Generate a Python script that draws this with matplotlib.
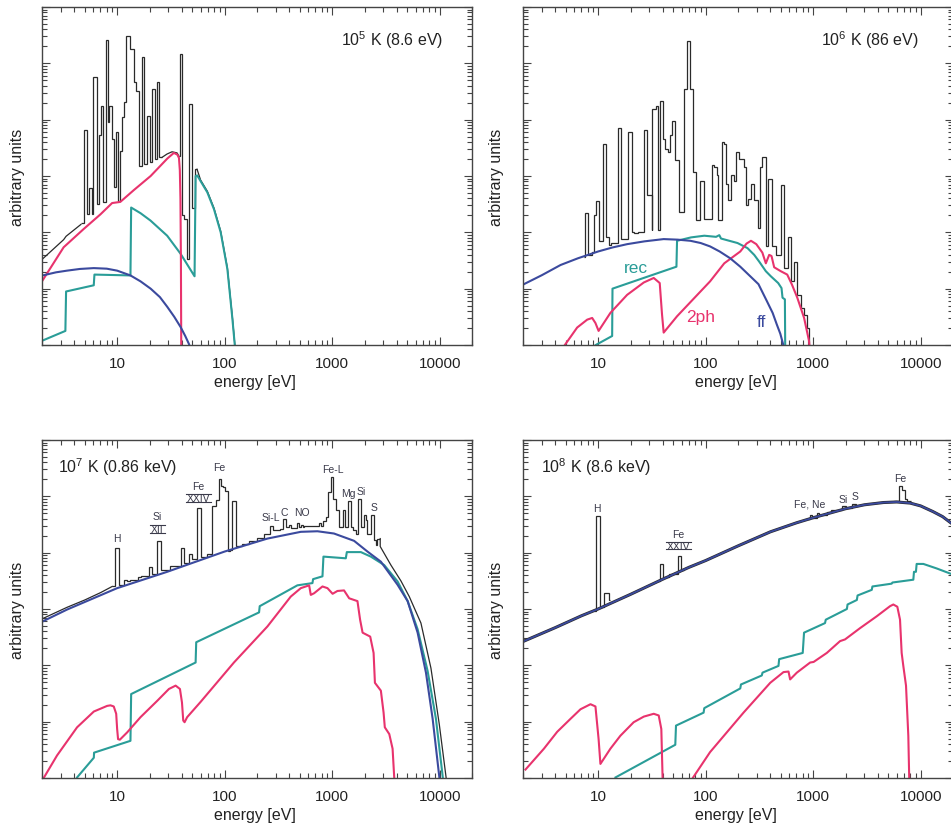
import numpy as np
import matplotlib
matplotlib.use("Agg")
import matplotlib.pyplot as plt
from matplotlib.ticker import LogLocator, FixedLocator, FixedFormatter, NullFormatter
from matplotlib.lines import Line2D

plt.rcParams['font.family'] = ['Liberation Sans', 'DejaVu Sans']
plt.rcParams['mathtext.fontset'] = 'custom'
plt.rcParams['mathtext.rm'] = 'Liberation Sans'

RED = '#e8336d'
TEAL = '#2a9d98'
BLUE = '#3b4a9e'
BLACK = '#2a2a2a'

xticks = [10, 100, 1000, 10000]
xtick_labels = ['10', '100', '1000', '10000']

# ---------------- 1e5 K -----------------
ff5_E = [2.03, 2.7, 3.42, 4.5, 6.06, 8.0, 10.0, 13.3, 16.5, 20.5, 25.0, 29.2, 34.0, 38.9, 43.0, 46.5, 49.0]
ff5_L = [-4.765, -4.71, -4.68, -4.65, -4.635, -4.645, -4.68, -4.765, -4.87, -5.0, -5.15, -5.32, -5.5, -5.68, -5.84, -5.98, -6.1]
rec5_E = [2.03, 3.30, 3.35, 6.06, 6.15, 13.3, 13.5, 16.5, 20.4, 29.2, 38.9, 52.5, 53.7, 55.6, 59.7, 69.0, 79.6, 91.9, 106, 118, 124, 126]
rec5_L = [-5.92, -5.75, -5.05, -4.94, -4.75, -4.765, -3.56, -3.66, -3.79, -4.06, -4.38, -4.78, -3.0, -2.99, -3.09, -3.29, -3.59, -4.0, -4.65, -5.53, -5.98, -6.2]
two5_E = [2.03, 3.18, 4.89, 7.0, 8.98, 10.7, 14.3, 20.5, 29.3, 33.7, 36.3, 37.6, 38.3, 38.8, 39.2, 39.5]
two5_L = [-4.85, -4.265, -3.94, -3.68, -3.48, -3.46, -3.25, -3.0, -2.69, -2.59, -2.62, -2.68, -2.9, -3.4, -4.5, -6.2]
tot5a_E = [2.03, 3.18, 3.35, 4.6]
tot5a_L = [-4.47, -4.13, -4.07, -3.86]
tot5b_edges = [4.6, 4.93, 5.30, 5.53, 5.85, 6.02, 6.47, 6.71, 7.05, 7.46, 7.85, 8.25, 8.49, 8.99, 9.39, 9.80,
               10.08, 10.53, 10.99, 11.47, 12.15, 13.05, 14.22, 15.05, 15.94, 16.88, 17.75, 19.06, 20.04, 21.07,
               22.32, 23.46, 24.67, 26.12]
tot5b_L = [-3.83, -2.18, -3.675, -3.21, -3.675, -1.25, -3.50, -2.28, -1.76, -3.47, -0.58, -2.05, -1.76, -2.34,
           -3.20, -2.22, -3.44, -2.55, -1.96, -1.69, -0.51, -0.745, -1.34, -1.485, -2.82, -0.88, -2.79, -1.93,
           -2.76, -1.455, -2.70, -1.34, -2.67]
tot5c_E = [26.12, 29.1, 32.4, 36.1, 37.6]
tot5c_L = [-2.67, -2.61, -2.57, -2.59, -2.65]
tot5d_edges = [37.6, 38.2, 40.4, 42.2, 44.7, 47.0, 49.7, 52.7, 55.4]
tot5d_L = [-2.65, -0.834, -3.70, -3.76, -4.47, -1.72, -3.56, -2.875]
tot5e_E = [55.4, 59.7, 69.0, 79.6, 91.9, 106, 118, 124.5, 127]
tot5e_L = [-2.88, -3.07, -3.27, -3.57, -3.98, -4.63, -5.5, -6.0, -6.2]

# ---------------- 1e6 K -----------------
ff6_E = [2.04, 3.0, 4.47, 6.5, 10.0, 13.5, 18.6, 27, 40.7, 55, 72.1, 90, 110, 135, 169, 210, 260, 310, 371, 420, 460, 495, 523, 540]
ff6_L = [-4.92, -4.76, -4.58, -4.46, -4.34, -4.27, -4.21, -4.16, -4.12, -4.13, -4.15, -4.19, -4.25, -4.34, -4.46,
         -4.61, -4.78, -4.92, -5.22, -5.43, -5.64, -5.80, -5.97, -6.1]
rec6_E = [9.5, 13.5, 13.6, 53.5, 54.2, 73.1, 97.2, 125, 134, 139, 198, 245, 283, 315, 363, 404, 473, 508, 519, 546, 551]
rec6_L = [-6.0, -5.84, -5.0, -4.61, -4.15, -4.09, -4.06, -4.08, -4.05, -4.11, -4.19, -4.28, -4.40, -4.52, -4.69,
          -4.78, -4.90, -4.99, -5.16, -5.19, -6.3]
two6_E = [4.5, 6.38, 7.91, 8.80, 9.44, 10.1, 13.0, 18.6, 26.6, 32.9, 37.4, 39.3, 40.7, 54.2, 110, 149, 210, 240,
          264, 296, 337, 363, 390, 410, 434, 500, 574, 636, 712, 824, 916, 940]
two6_L = [-6.1, -5.69, -5.55, -5.52, -5.61, -5.75, -5.43, -5.11, -4.89, -4.81, -4.90, -5.46, -5.78, -5.49, -4.87,
          -4.55, -4.34, -4.20, -4.15, -4.21, -4.36, -4.55, -4.40, -4.42, -4.62, -4.69, -4.75, -4.93, -5.16, -5.52,
          -5.93, -6.2]
tot6_edges = [7.36, 7.52, 8.07, 8.80, 9.12, 9.65, 10.2, 11.0, 11.9, 12.5, 13.2, 15.2, 16.4, 17.3, 19.1, 20.6, 21.7,
              23.4, 26.5, 28.5, 30.2, 31.5, 32.0, 34.6, 36.3, 37.4, 40.2, 41.9, 44.4, 47.0, 49.0, 51.9, 56.9, 63.4,
              67.1, 72.1, 75.7, 80.7, 89.2, 95.8, 114, 120, 127, 131, 141, 149, 156, 162, 174, 185, 193, 205, 216,
              229, 237, 249, 264, 283, 304, 318, 336, 361, 382, 410, 447, 473, 501, 538, 578, 621, 667, 705, 768,
              824, 885, 925, 960]
tot6_L = [-4.43, -3.66, -4.40, -4.35, -3.69, -3.45, -4.16, -2.43, -4.08, -4.22, -4.19, -2.15, -4.12, -4.11, -2.22,
          -3.99, -4.02, -4.00, -2.19, -3.34, -3.34, -3.96, -1.81, -1.75, -3.96, -1.66, -2.34, -2.52, -2.58, -2.28,
          -2.02, -2.72, -3.64, -1.46, -0.61, -1.46, -2.93, -3.78, -3.08, -3.76, -2.81, -2.84, -2.99, -3.78, -2.39,
          -2.43, -3.14, -3.43, -2.99, -3.08, -2.58, -2.69, -2.69, -2.84, -3.52, -3.40, -3.14, -3.43, -3.93, -2.84,
          -2.66, -4.25, -3.05, -4.25, -4.40, -4.40, -3.16, -4.64, -4.08, -4.87, -4.52, -5.11, -5.34, -5.46, -5.69,
          -7.0]

# ---------------- 1e7 K -----------------
ff7_E = [2.03, 3.42, 10, 29.2, 100, 250, 511, 730, 1040, 1600, 2130, 2840, 4060, 5040, 6240, 7460, 8610, 9940, 10500]
ff7_L = [-3.22, -3.01, -2.63, -2.34, -1.98, -1.75, -1.63, -1.62, -1.66, -1.79, -1.98, -2.16, -2.57, -2.86, -3.42,
         -4.13, -4.95, -5.99, -6.4]
rec7_E = [4.24, 6.07, 6.1, 13.3, 13.5, 53.7, 54.4, 209, 212, 475, 656, 665, 813, 830, 1340, 1370, 1850, 2290, 3050,
          4060, 5040, 6240, 7730, 9240, 10700, 11000]
rec7_L = [-5.99, -5.64, -5.55, -5.34, -4.51, -3.95, -3.59, -3.06, -2.95, -2.58, -2.54, -2.47, -2.42, -2.07, -2.10,
          -1.99, -1.99, -2.07, -2.22, -2.51, -2.86, -3.36, -4.1, -4.95, -5.99, -6.3]
two7_E = [2.0, 2.76, 4.24, 6.07, 8.07, 8.67, 9.3, 9.8, 10.0, 10.2, 10.6, 12.4, 16.5, 23.6, 30.3, 35.0, 38.4, 40.1,
          41.2, 42.4, 44.8, 59.7, 122, 250, 412, 511, 611, 633, 680, 813, 905, 1010, 1120, 1290, 1440, 1720, 1820,
          1920, 2260, 2430, 2500, 2840, 3010, 3090, 3400, 3650, 3780, 3850]
two7_L = [-6.05, -5.6, -5.1, -4.82, -4.72, -4.71, -4.73, -4.86, -5.13, -5.31, -5.32, -5.19, -4.92, -4.63, -4.42,
          -4.36, -4.42, -4.66, -4.98, -5.01, -4.92, -4.65, -3.95, -3.31, -2.78, -2.63, -2.58, -2.75, -2.72, -2.60,
          -2.63, -2.73, -2.68, -2.67, -2.81, -2.86, -3.19, -3.42, -3.49, -3.78, -4.31, -4.45, -4.84, -5.10, -5.22,
          -5.48, -5.99, -6.3]
tot7a_E = [2.03, 3.42, 5.0, 7.0, 9.0]
tot7a_L = [-3.17, -2.97, -2.84, -2.71, -2.60]
tot7b_edges = [9.0, 9.65, 10.4, 11.5, 12.4, 13.3, 15.6, 16.5, 19.7, 20.9, 23.6, 25.4, 31, 38.9, 41.8, 46.5, 50.0,
               55.6, 59.7, 68, 76.8, 82.4, 88.6, 93.1, 97.2, 101, 107, 112, 118, 127, 145, 170, 200, 230, 264, 280,
               330, 349, 370, 397, 418, 469, 493, 511, 533, 548, 569, 757, 796, 830, 870, 918, 973, 1029, 1080, 1160,
               1250, 1310, 1390, 1490, 1580, 1660, 1750, 1850, 1960, 2060, 2130, 2290, 2430, 2550, 2640, 2800]
tot7b_L = [-2.60, -1.91, -2.57, -2.48, -2.50, -2.49, -2.44, -2.42, -2.26, -2.37, -1.79, -2.31, -2.24, -1.92, -2.18,
           -2.03, -2.12, -1.21, -2.08, -2.03, -1.17, -1.07, -0.69, -0.81, -0.84, -0.91, -1.97, -1.96, -1.09, -1.88,
           -1.84, -1.79, -1.74, -1.66, -1.53, -1.60, -1.58, -1.41, -1.55, -1.51, -1.56, -1.48, -1.54, -1.50, -1.54,
           -1.52, -1.53, -1.48, -1.52, -1.44, -1.36, -0.92, -0.65, -1.04, -1.25, -1.54, -1.25, -1.55, -1.08, -1.54,
           -1.60, -1.66, -1.04, -1.54, -1.34, -1.42, -1.66, -1.34, -1.78, -1.86, -1.75]
tot7c_E = [2800, 2800, 3520, 4360, 5220, 6700, 8300, 9930, 11500, 12000]
tot7c_L = [-1.75, -1.89, -2.22, -2.50, -2.78, -3.25, -4.05, -5.05, -6.0, -6.3]

# ---------------- 1e8 K -----------------
ff8_E = [2.04, 4, 7, 10, 20, 40, 70, 100, 200, 400, 700, 1000, 2000, 3000, 4500, 6000, 8000, 10000, 13000, 16000, 20000]
ff8_L = [-3.57, -3.33, -3.12, -3.0, -2.74, -2.47, -2.26, -2.14, -1.88, -1.63, -1.47, -1.38, -1.22, -1.15, -1.11,
         -1.10, -1.12, -1.17, -1.27, -1.36, -1.50]
rec8_E = [14.5, 52.2, 53.0, 95.7, 97.1, 210, 213, 333, 338, 476, 483, 800, 823, 1290, 1310, 2060, 2090, 2550, 2590,
          3510, 3560, 5380, 5460, 8550, 8670, 9040, 9180, 10600, 14100, 19400, 21600]
rec8_L = [-5.99, -5.41, -5.07, -4.84, -4.76, -4.41, -4.34, -4.18, -4.13, -4.01, -3.89, -3.78, -3.42, -3.25, -3.19,
          -3.0, -2.92, -2.84, -2.76, -2.66, -2.60, -2.55, -2.53, -2.48, -2.34, -2.34, -2.20, -2.20, -2.28, -2.38, -2.42]
two8a_E = [2.11, 3.13, 4.16, 5.53, 6.85, 8.49, 9.44, 10.1, 10.5, 13.0, 16.1, 21.4, 26.6, 32.9, 36.6, 38.7, 39.9]
two8a_L = [-5.85, -5.48, -5.18, -4.95, -4.78, -4.69, -4.73, -5.31, -5.75, -5.48, -5.25, -5.01, -4.91, -4.86, -4.89,
           -5.13, -6.1]
two8b_E = [70, 110, 225, 399, 530, 590, 611, 705, 938, 1010, 1340, 1780, 1980, 2730, 3900, 5190, 5570, 6070, 6430,
           6660, 6900, 7310, 7680, 7850]
two8b_L = [-6.1, -5.54, -4.84, -4.31, -4.12, -4.11, -4.25, -4.13, -3.95, -3.94, -3.78, -3.57, -3.54, -3.34, -3.13,
           -2.95, -2.92, -2.96, -3.19, -3.78, -4.01, -4.36, -5.25, -6.1]
h8_edges = [9.2, 9.58, 10.4, 11.3, 12.5, 13.0]
h8_L = [-3.03, -1.35, -2.96, -2.72, -2.84]
fe24_8_edges = [35, 37.9, 40.2, 46.0, 49.3, 55.0, 59.0, 63]
fe24_8_L = [-2.51, -2.20, -2.44, -2.37, -2.37, -2.06, -2.30]
feNe8_edges = [900, 938, 986, 1082, 1145, 1360, 1460, 1870, 2010, 2320, 2490, 2600]
feNe8_L = [-1.41, -1.34, -1.38, -1.30, -1.33, -1.27, -1.25, -1.18, -1.20, -1.14, -1.17]
fek8_edges = [5600, 6300, 6760, 7100, 7510, 8070]
fek8_L = [-1.09, -0.81, -0.89, -1.05, -1.09]

# line labels (text, energy, log10 level)
labels7 = [('H', 10.0, -1.74), ('Si', 23.6, -1.35), ('Fe', 57, -0.82), ('Fe', 89.4, -0.48),
           ('Si-L', 267, -1.37), ('C', 361, -1.28), ('NO', 520, -1.28), ('Fe-L', 1012, -0.51),
           ('Mg', 1426, -0.94), ('Si', 1845, -0.91), ('S', 2440, -1.19)]
roman7 = [('XII', 23.6, -1.58), ('XXIV', 57, -1.03)]
labels8 = [('H', 9.8, -1.21), ('Fe', 55.7, -1.67), ('Fe, Ne', 930, -1.12), ('Si', 1885, -1.05),
           ('S', 2440, -0.99), ('Fe', 6410, -0.67)]
roman8 = [('XXIV', 55.7, -1.88)]


def P(v):
    return 10.0 ** np.asarray(v, dtype=float)


fig = plt.figure(figsize=(9.51, 8.29), dpi=100)
W, H = 951.0, 829.0
aw, ah = 430 / W, 338 / H
pos = {
    'tl': [42 / W, 1 - 346 / H, aw, ah],
    'tr': [523 / W, 1 - 346 / H, aw, ah],
    'bl': [42 / W, 1 - 779 / H, aw, ah],
    'br': [523 / W, 1 - 779 / H, aw, ah],
}
axes = {k: fig.add_axes(v) for k, v in pos.items()}

for k, ax in axes.items():
    ax.set_xscale('log')
    ax.set_yscale('log')
    ax.set_xlim(2, 2e4)
    ax.set_ylim(1e-6, 1)
    ax.xaxis.set_major_locator(FixedLocator(xticks))
    ax.xaxis.set_major_formatter(FixedFormatter(xtick_labels))
    ax.xaxis.set_minor_locator(LogLocator(base=10, subs=np.arange(2, 10), numticks=20))
    ax.xaxis.set_minor_formatter(NullFormatter())
    ax.yaxis.set_major_locator(LogLocator(base=10, numticks=20))
    ax.yaxis.set_minor_locator(LogLocator(base=10, subs=np.arange(2, 10), numticks=20))
    ax.yaxis.set_major_formatter(NullFormatter())
    ax.yaxis.set_minor_formatter(NullFormatter())
    ax.tick_params(which='both', direction='in', top=True, right=True, color='#444444', width=0.8)
    ax.tick_params(which='major', length=6, labelsize=11, pad=8, labelcolor='#222222')
    ax.tick_params(which='minor', length=3.5)
    for s in ax.spines.values():
        s.set_color('#444444')
        s.set_linewidth(1.0)
    ax.set_xlabel('energy [eV]', fontsize=11.5, color='#222222')
    ax.set_ylabel('arbitrary units', fontsize=11.5, color='#222222')
    ax.xaxis.set_label_coords(0.495, -0.085)
    ax.yaxis.set_label_coords(-0.040 if k in ('tl', 'bl') else -0.044, 0.5)

lw_c = 1.5
lw_k = 0.9

# TL
ax = axes['tl']
ax.plot(tot5a_E, P(tot5a_L), color=BLACK, lw=lw_k)
ax.stairs(P(tot5b_L), tot5b_edges, baseline=None, color=BLACK, lw=lw_k)
ax.plot(tot5c_E, P(tot5c_L), color=BLACK, lw=lw_k)
ax.stairs(P(tot5d_L), tot5d_edges, baseline=None, color=BLACK, lw=lw_k)
ax.plot(tot5e_E, P(tot5e_L), color=BLACK, lw=lw_k)
ax.plot(rec5_E, P(rec5_L), color=TEAL, lw=lw_c)
ax.plot(two5_E, P(two5_L), color=RED, lw=lw_c)
ax.plot(ff5_E, P(ff5_L), color=BLUE, lw=lw_c)
ax.text(0.933, 0.905, r'$\mathregular{10^5}$ K (8.6 eV)', transform=ax.transAxes, ha='right', va='center',
        fontsize=11.5, color='#222222')

# TR
ax = axes['tr']
ax.stairs(P(tot6_L), tot6_edges, baseline=None, color=BLACK, lw=lw_k)
ax.plot(rec6_E, P(rec6_L), color=TEAL, lw=lw_c)
ax.plot(two6_E, P(two6_L), color=RED, lw=lw_c)
ax.plot(ff6_E, P(ff6_L), color=BLUE, lw=lw_c)
ax.text(0.921, 0.905, r'$\mathregular{10^6}$ K (86 eV)', transform=ax.transAxes, ha='right', va='center',
        fontsize=11.5, color='#222222')
ax.text(22.6, 10 ** -4.62, 'rec', color=TEAL, fontsize=12.5, ha='center', va='center')
ax.text(89.4, 10 ** -5.50, '2ph', color=RED, fontsize=12.5, ha='center', va='center')
ax.text(331, 10 ** -5.59, 'ff', color=BLUE, fontsize=12.5, ha='center', va='center')

# BL
ax = axes['bl']
ax.plot(tot7a_E, P(tot7a_L), color=BLACK, lw=lw_k)
ax.stairs(P(tot7b_L), tot7b_edges, baseline=None, color=BLACK, lw=lw_k)
ax.plot(tot7c_E, P(tot7c_L), color=BLACK, lw=lw_k)
ax.plot(rec7_E, P(rec7_L), color=TEAL, lw=lw_c)
ax.plot(two7_E, P(two7_L), color=RED, lw=lw_c)
ax.plot(ff7_E, P(ff7_L), color=BLUE, lw=lw_c)
ax.text(0.037, 0.923, r'$\mathregular{10^7}$ K (0.86 keV)', transform=ax.transAxes, ha='left', va='center',
        fontsize=11.5, color='#222222')
roman_texts = []
for t, e, l in labels7:
    ax.text(e, 10 ** l, t, fontsize=7.5, ha='center', va='center', color='#3a3a4a')
for t, e, l in roman7:
    roman_texts.append(ax.text(e, 10 ** l, t, fontsize=7.5, ha='center', va='center', color='#3a3a4a'))

# BR
ax = axes['br']
ax.plot(ff8_E, P(ff8_L), color=BLACK, lw=2.2)
for ed, vl in ((h8_edges, h8_L), (fe24_8_edges, fe24_8_L), (feNe8_edges, feNe8_L), (fek8_edges, fek8_L)):
    ax.stairs(P(vl), ed, baseline=None, color=BLACK, lw=lw_k)
ax.plot(rec8_E, P(rec8_L), color=TEAL, lw=lw_c)
ax.plot(two8a_E, P(two8a_L), color=RED, lw=lw_c)
ax.plot(two8b_E, P(two8b_L), color=RED, lw=lw_c)
ax.plot(ff8_E, P(ff8_L), color=BLUE, lw=1.3)
ax.text(0.042, 0.923, r'$\mathregular{10^8}$ K (8.6 keV)', transform=ax.transAxes, ha='left', va='center',
        fontsize=11.5, color='#222222')
for t, e, l in labels8:
    ax.text(e, 10 ** l, t, fontsize=7.5, ha='center', va='center', color='#3a3a4a')
for t, e, l in roman8:
    roman_texts.append(ax.text(e, 10 ** l, t, fontsize=7.5, ha='center', va='center', color='#3a3a4a'))

# over/under bars for the roman numerals
fig.canvas.draw()
for t in roman_texts:
    bb = t.get_window_extent()
    x0, x1 = (bb.x0 - 1) / fig.bbox.width, (bb.x1 + 1) / fig.bbox.width
    for yy in (bb.y0 + 1.5, bb.y1 - 1.0):
        fig.add_artist(Line2D([x0, x1], [yy / fig.bbox.height] * 2, transform=fig.transFigure,
                              color='#3a3a4a', lw=0.8))

fig.savefig('out.png', dpi=100)
